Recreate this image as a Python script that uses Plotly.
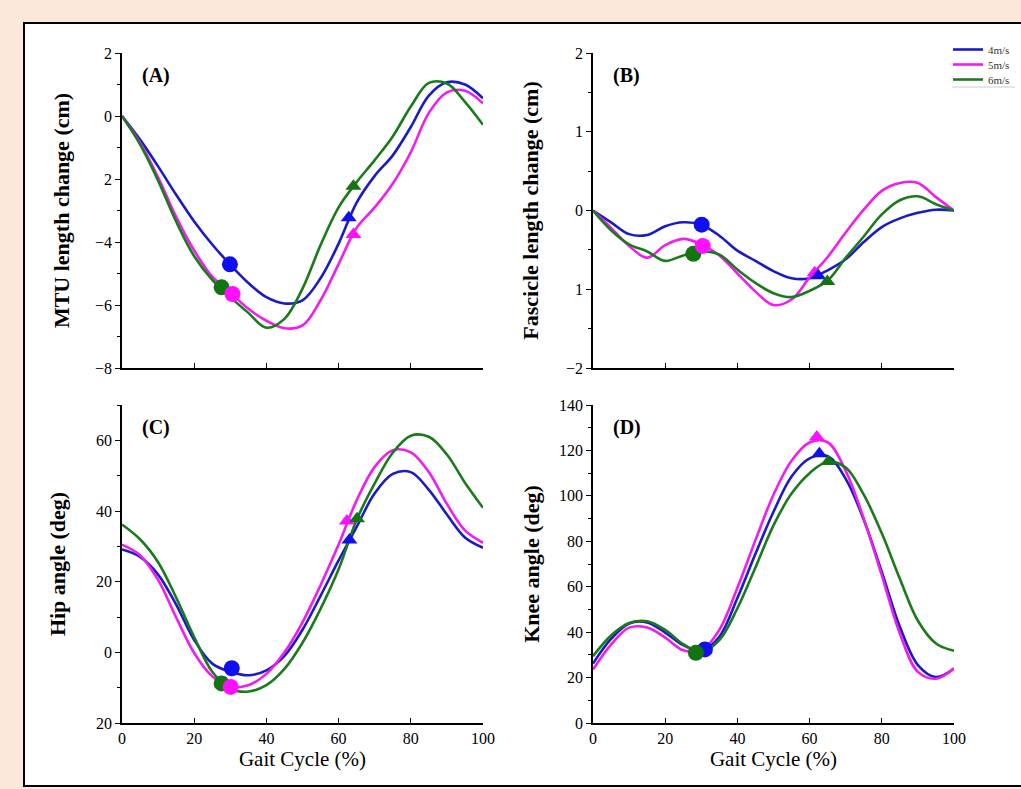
import plotly.graph_objects as go

# ---------------- data ----------------
GAIT_PCT = [0, 5, 10, 15, 20, 25, 30, 35, 40, 45, 50, 55, 60, 65, 70, 75, 80, 85, 90, 95, 100]
SPEEDS = ["4m/s", "5m/s", "6m/s"]

# (A) MTU length change (cm)
mtu_4 = [0, -0.75, -1.6, -2.5, -3.35, -4.08, -4.72, -5.3, -5.75, -5.95, -5.85, -5.15, -4.05, -2.75, -1.9, -1.25, -0.35, 0.65, 1.07, 1.0, 0.56]
mtu_5 = [0, -0.85, -1.95, -3.2, -4.27, -5.1, -5.6, -6.12, -6.5, -6.74, -6.65, -5.85, -4.7, -3.55, -2.9, -2.15, -1.15, 0.1, 0.75, 0.8, 0.4]
mtu_6 = [0, -0.9, -2.05, -3.35, -4.45, -5.2, -5.75, -6.25, -6.72, -6.44, -5.48, -4.1, -2.9, -2.1, -1.4, -0.65, 0.3, 1.05, 1.03, 0.45, -0.28]

# (B) Fascicle length change (cm)
fas_4 = [0, -0.15, -0.3, -0.31, -0.2, -0.15, -0.18, -0.32, -0.51, -0.64, -0.77, -0.86, -0.86, -0.76, -0.62, -0.4, -0.21, -0.1, -0.03, 0.01, 0]
fas_5 = [0, -0.22, -0.45, -0.6, -0.44, -0.36, -0.43, -0.57, -0.8, -1.03, -1.2, -1.13, -0.85, -0.59, -0.28, 0.01, 0.25, 0.35, 0.35, 0.17, 0]
fas_6 = [0, -0.25, -0.43, -0.52, -0.64, -0.57, -0.52, -0.56, -0.75, -0.92, -1.05, -1.1, -1.02, -0.89, -0.6, -0.33, -0.05, 0.13, 0.18, 0.08, 0]

# (C) Hip angle (deg)
hip_4 = [29.1, 27, 22, 13.5, 3.5, -3.2, -5.5, -6.5, -5.1, -1, 6.4, 16, 26, 35.5, 45, 50.5, 51, 46, 39, 32.5, 29.6]
hip_5 = [30.5, 27.5, 20.5, 9.9, -0.2, -6.8, -9.7, -9.3, -6.1, 0, 8.5, 19, 30.5, 43, 52.5, 57.2, 56.6, 51, 42, 34.5, 31]
hip_6 = [36.2, 32, 25.5, 15.5, 4.3, -5.5, -10.3, -11.1, -9.3, -4.7, 2.7, 12.3, 23.5, 37.5, 47.8, 56.5, 61.3, 61, 56, 48, 40.9]

# (D) Knee angle (deg)
knee_4 = [26.2, 37, 43.8, 44.3, 39.8, 34.3, 31.8, 38, 55, 74.5, 93, 108.5, 116.5, 117.5, 107.5, 89.5, 66.5, 42.4, 25.5, 20.2, 24]
knee_5 = [23.5, 34.5, 42, 42, 37.6, 32, 32, 41, 59.5, 80.5, 100.5, 115.5, 123.5, 123.6, 111, 90, 65, 39.4, 22.5, 19.5, 24]
knee_6 = [29.4, 38.5, 44, 44.8, 41, 34.7, 31.2, 36.5, 50.5, 68.5, 87, 101, 110, 115, 112.5, 100.5, 83.5, 63.5, 45, 35, 31.8]

# gait events per speed (4, 5, 6 m/s): circle = end of stance, triangle = toe-off
mtu_circle_x = [29.9, 30.6, 27.6];  mtu_circle_y = [-4.71, -5.65, -5.44]
mtu_tri_x = [62.8, 64.1, 64.1];     mtu_tri_y = [-3.23, -3.76, -2.23]
fas_circle_x = [30.1, 30.4, 27.8];  fas_circle_y = [-0.18, -0.45, -0.55]
fas_tri_x = [62.4, 61.4, 64.9];     fas_tri_y = [-0.83, -0.79, -0.9]
hip_circle_x = [30.4, 30.1, 27.6];  hip_circle_y = [-4.5, -9.8, -8.8]
hip_tri_x = [63.0, 62.3, 65.1];     hip_tri_y = [31.8, 37.2, 37.8]
knee_circle_x = [31.0, None, 28.5]; knee_circle_y = [32.4, None, 30.9]
knee_tri_x = [62.7, 62.0, 65.2];    knee_tri_y = [118.5, 125.9, 115.1]

# tick labels as printed in the figure
mtu_ticks = [2, 0, -2, -4, -6, -8];   mtu_ticktext = ["2", "0", "2", "\u22124", "\u22126", "\u22128"]
fas_ticks = [2, 1, 0, -1, -2];        fas_ticktext = ["2", "1", "0", "1", "\u22122"]
hip_ticks = [60, 40, 20, 0, -20];     hip_ticktext = ["60", "40", "20", "0", "20"]
knee_ticks = [0, 20, 40, 60, 80, 100, 120, 140]
knee_ticktext = [str(v) for v in knee_ticks]
x_ticks = [0, 20, 40, 60, 80, 100]

LINE_COLORS = ["#1a1ac8", "#f01cf0", "#1b7a1b"]
MARK_COLORS = ["#1010ee", "#ff10ff", "#127512"]
LEGENDS = ["legend", "legend2", "legend3"]

# ---------------- figure ----------------
W, H = 1021, 789
SERIF = "Liberation Serif, Times New Roman, serif"
fig = go.Figure()

panels = [
    dict(xa="x", ya="y", s=[mtu_4, mtu_5, mtu_6], cx=mtu_circle_x, cy=mtu_circle_y, tx=mtu_tri_x, ty=mtu_tri_y),
    dict(xa="x2", ya="y2", s=[fas_4, fas_5, fas_6], cx=fas_circle_x, cy=fas_circle_y, tx=fas_tri_x, ty=fas_tri_y),
    dict(xa="x3", ya="y3", s=[hip_4, hip_5, hip_6], cx=hip_circle_x, cy=hip_circle_y, tx=hip_tri_x, ty=hip_tri_y),
    dict(xa="x4", ya="y4", s=[knee_4, knee_5, knee_6], cx=knee_circle_x, cy=knee_circle_y, tx=knee_tri_x, ty=knee_tri_y),
]

for pi, p in enumerate(panels):
    for i in range(3):
        fig.add_trace(go.Scatter(
            x=GAIT_PCT, y=p["s"][i], mode="lines", name=SPEEDS[i],
            line=dict(color=LINE_COLORS[i], width=2.6, shape="spline", smoothing=1.0),
            xaxis=p["xa"], yaxis=p["ya"], showlegend=(pi == 1), legendgroup=SPEEDS[i],
            legend=LEGENDS[i], hoverinfo="skip"))
    # circles drawn in order blue, green, magenta ; triangles magenta, blue, green
    for i in [0, 2, 1]:
        if p["cx"][i] is None:
            continue
        fig.add_trace(go.Scatter(
            x=[p["cx"][i]], y=[p["cy"][i]], mode="markers",
            marker=dict(symbol="circle", size=16, color=MARK_COLORS[i], line=dict(width=0)),
            xaxis=p["xa"], yaxis=p["ya"], showlegend=False, hoverinfo="skip"))
    for i in [1, 0, 2]:
        fig.add_trace(go.Scatter(
            x=[p["tx"][i]], y=[p["ty"][i]], mode="markers",
            marker=dict(symbol="triangle-up", size=14, color=MARK_COLORS[i], line=dict(width=0)),
            xaxis=p["xa"], yaxis=p["ya"], showlegend=False, hoverinfo="skip"))

def px_x(a, b):
    return [a / W, b / W]

def px_y(top, bottom):
    return [1 - bottom / H, 1 - top / H]

axis_common = dict(showline=True, linecolor="black", linewidth=1.6, showgrid=False, zeroline=False,
                   tickfont=dict(family=SERIF, size=16, color="black"), tickcolor="black",
                   tickwidth=1.4, automargin=False)

def xaxis(domain, anchor, labels):
    d = dict(axis_common, domain=domain, anchor=anchor, range=[0, 100], tickmode="array",
             tickvals=x_ticks, ticks="inside", ticklen=5, showticklabels=labels)
    if labels:
        d["title"] = dict(text="Gait Cycle (%)", font=dict(family=SERIF, size=21, color="black"), standoff=1)
    return d

def yaxis(domain, anchor, rng, tv, tt, minor_vals, title, standoff):
    return dict(axis_common, domain=domain, anchor=anchor, range=rng, tickmode="array",
                tickvals=tv, ticktext=tt, ticks="outside", ticklen=5,
                minor=dict(tickmode="array", tickvals=minor_vals, ticks="outside", ticklen=3,
                           tickwidth=1.2, tickcolor="black", showgrid=False),
                title=dict(text="<b>" + title + "</b>", font=dict(family=SERIF, size=22, color="black"),
                           standoff=standoff))

def legend_at(top_px):
    return dict(x=948 / W, y=1 - top_px / H, xanchor="left", yanchor="top",
                font=dict(family=SERIF, size=11, color="#333"), bgcolor="rgba(0,0,0,0)",
                itemwidth=30, borderwidth=0)

xA = px_x(122, 483); xB = px_x(593, 954)
yTop = px_y(53, 368); yBot = px_y(405, 723)

fig.update_layout(
    width=W, height=H,
    margin=dict(l=0, r=0, t=0, b=0),
    paper_bgcolor="#fbe8da", plot_bgcolor="rgba(0,0,0,0)",
    font=dict(family=SERIF, color="black"),
    xaxis=xaxis(xA, "y", False),
    xaxis2=xaxis(xB, "y2", False),
    xaxis3=xaxis(xA, "y3", True),
    xaxis4=xaxis(xB, "y4", True),
    yaxis=yaxis(yTop, "x", [-8, 2], mtu_ticks, mtu_ticktext, [1, -1, -3, -5, -7], "MTU length change (cm)", 19),
    yaxis2=yaxis(yTop, "x2", [-2, 2], fas_ticks, fas_ticktext, [1.5, 0.5, -0.5, -1.5], "Fascicle length change (cm)", 21),
    yaxis3=yaxis(yBot, "x3", [-20, 70], hip_ticks, hip_ticktext, [70, 50, 30, 10, -10], "Hip angle (deg)", 24),
    yaxis4=yaxis(yBot, "x4", [0, 140], knee_ticks, knee_ticktext, [10, 30, 50, 70, 90, 110, 130], "Knee angle (deg)", 13),
    legend=legend_at(35),
    legend2=legend_at(50),
    legend3=legend_at(65),
    showlegend=True,
)

# white page frame
fig.add_shape(type="rect", xref="paper", yref="paper", x0=24 / W, x1=1.02, y0=1 - 786 / H, y1=1 - 23 / H,
              line=dict(color="black", width=2), fillcolor="white", layer="below")
# thin line under legend
fig.add_shape(type="line", xref="paper", yref="paper", x0=952 / W, x1=1015 / W, y0=1 - 87 / H, y1=1 - 87 / H,
              line=dict(color="#cccccc", width=1))

# panel labels
for lab, ax, ay in [("(A)", "x domain", "y domain"), ("(B)", "x2 domain", "y2 domain"),
                    ("(C)", "x3 domain", "y3 domain"), ("(D)", "x4 domain", "y4 domain")]:
    fig.add_annotation(text="<b>" + lab + "</b>", xref=ax, yref=ay, x=0.05, y=0.93,
                       xanchor="left", yanchor="middle", showarrow=False,
                       font=dict(family=SERIF, size=20, color="black"))

fig.write_html("out.html", config={"displayModeBar": False},
               post_script="document.body.style.margin='0';")
